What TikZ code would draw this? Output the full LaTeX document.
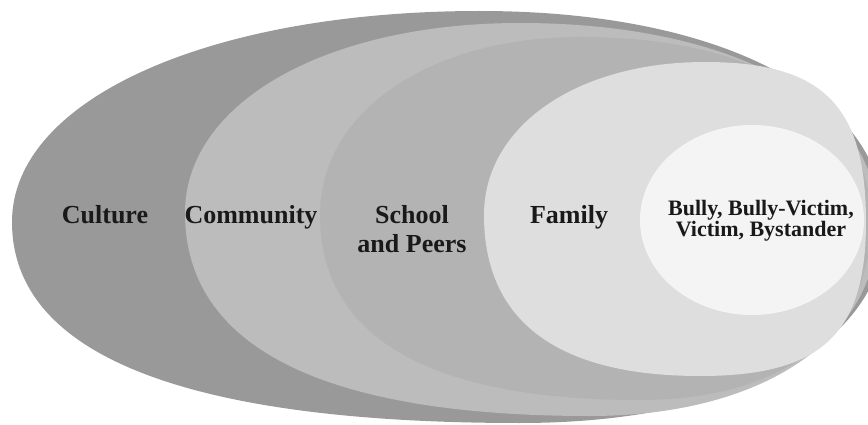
\documentclass[tikz,border=0pt]{standalone}
\usepackage{fontspec}
\setmainfont{Liberation Serif}

\definecolor{culturegray}{RGB}{153, 153, 153}
\definecolor{communitygray}{RGB}{188, 188, 188}
\definecolor{schoolgray}{RGB}{179, 179, 179}
\definecolor{familygray}{RGB}{222, 222, 222}
\definecolor{selfgray}{RGB}{244, 244, 244}

% left, top, right, bottom extreme points, then roundness of the right side
\newcommand{\eggpath}[9]{%
    (#1,#2) .. controls (#1,{#2-0.58*(#2-#4)}) and ({#3-0.58*(#3-#1)},#4) .. (#3,#4)
    .. controls ({#3+#9*(#5-#3)},#4) and (#5,{#6-#9*(#6-#4)}) .. (#5,#6)
    .. controls (#5,{#6+#9*(#8-#6)}) and ({#7+#9*(#5-#7)},#8) .. (#7,#8)
    .. controls ({#7-0.66*(#7-#1)},#8) and (#1,{#2+0.66*(#8-#2)}) .. (#1,#2) -- cycle}

\begin{document}
\begin{tikzpicture}[x=1pt, y=-1pt,
    ring/.style={draw=none},
    biglabel/.style={font=\fontsize{26}{29}\selectfont\bfseries, inner sep=0pt, align=center, text=black!90},
    smalllabel/.style={font=\fontsize{22}{21}\selectfont\bfseries, inner sep=0pt, align=center, text=black!90}
    ]

    \useasboundingbox (0,0) rectangle (868,425);
    \clip (0,0) rectangle (868,425);

    % Nested layers, outside in
    \fill[ring, culturegray] \eggpath{12}{222}{480}{11}{885}{225}{520}{423}{0.6};
    \fill[ring, communitygray] \eggpath{185}{213}{520}{23}{878}{222}{590}{416}{0.6};
    \fill[ring, schoolgray] \eggpath{320}{215}{580}{37}{871}{222}{640}{400}{0.62};
    \fill[ring, familygray] \eggpath{484}{215}{705}{62}{866}{222}{700}{376}{0.73};
    \fill[ring, selfgray] (752,220) ellipse [x radius=112, y radius=95];

    % Labels
    \node[biglabel, anchor=base] (culture) at (105,223) {Culture};
    \node[biglabel, anchor=base] (community) at (251,223) {Community};
    \node[biglabel, anchor=north] (school) at (412,205) {School\\and Peers};
    \node[biglabel, anchor=base] (family) at (569,223) {Family};
    \node[smalllabel, anchor=north] (self) at (761,200) {Bully, Bully-Victim,\\Victim, Bystander};
\end{tikzpicture}
\end{document}
